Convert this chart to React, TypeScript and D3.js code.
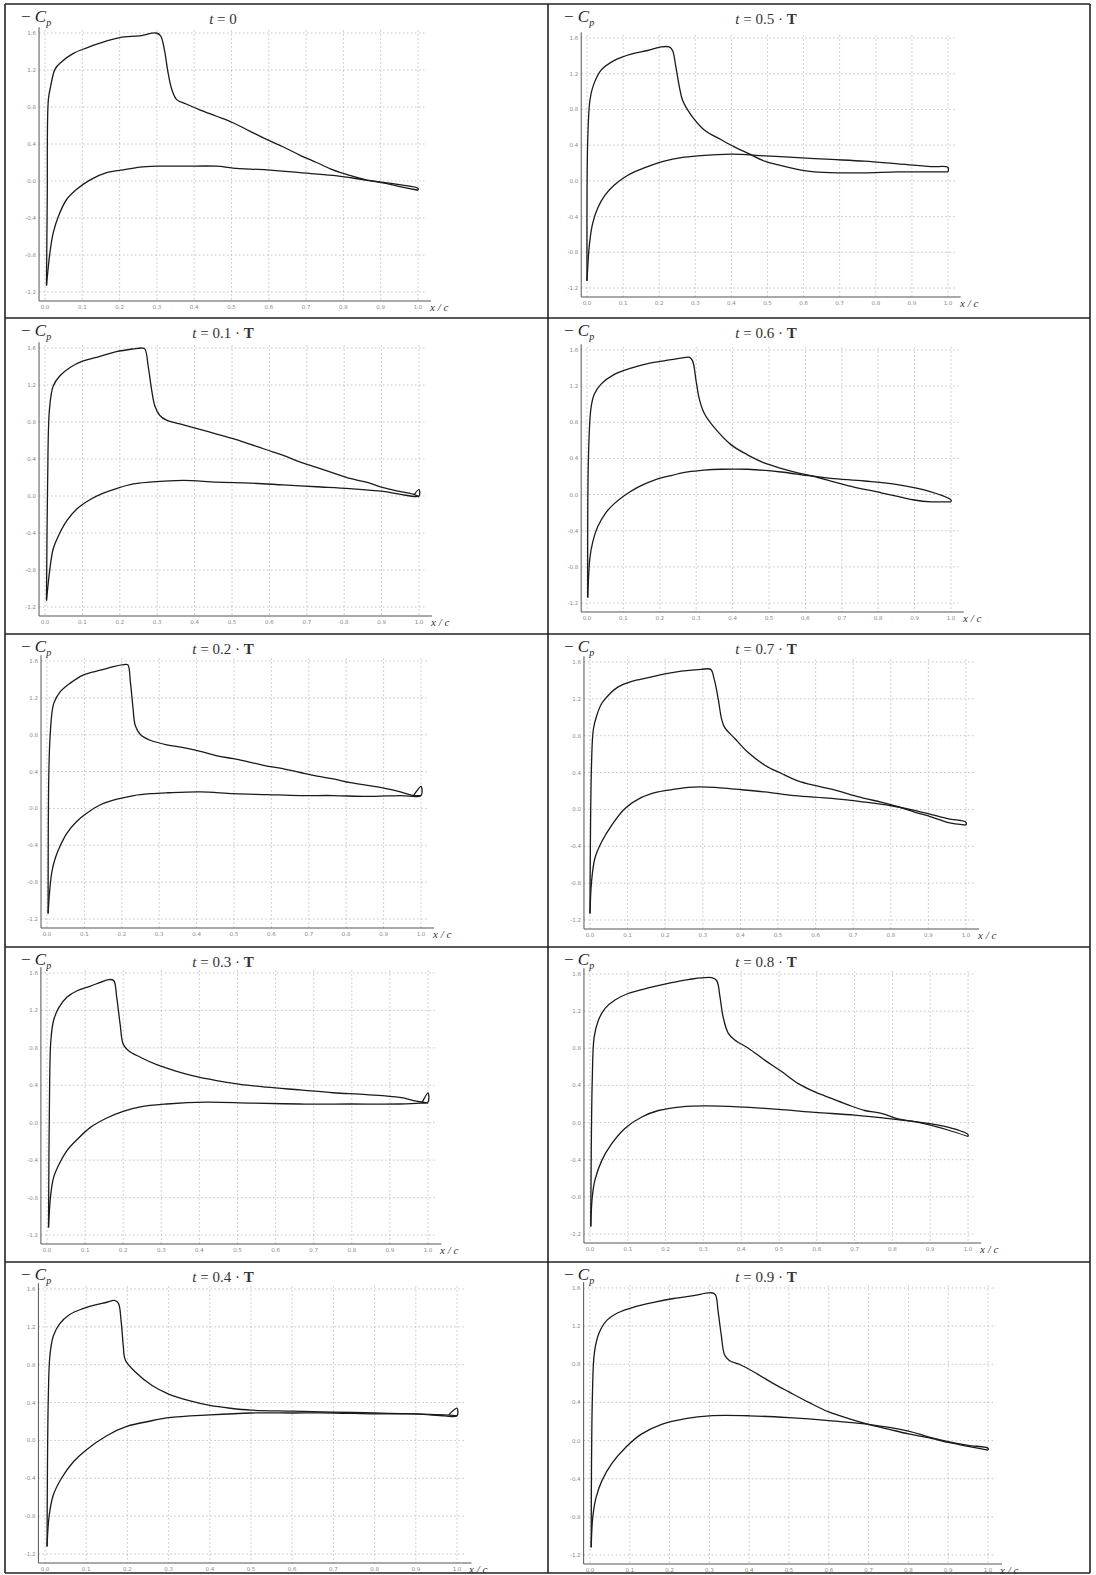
import React from 'react';
import * as d3 from 'd3';

type Pt = [number, number];

const X_TICKS = [0, 0.1, 0.2, 0.3, 0.4, 0.5, 0.6, 0.7, 0.8, 0.9, 1.0];
const X_TICK_LABELS = ['0.0', '0.1', '0.2', '0.3', '0.4', '0.5', '0.6', '0.7', '0.8', '0.9', '1.0'];
const Y_TICKS = [1.6, 1.2, 0.8, 0.4, 0.0, -0.4, -0.8, -1.2];
const Y_TICK_LABELS = ['1.6', '1.2', '0.8', '0.4', '0.0', '-0.4', '-0.8', '-1.2'];
const TIME_LABELS = ['0', '0.1', '0.2', '0.3', '0.4', '0.5', '0.6', '0.7', '0.8', '0.9'];

// -Cp on the upper surface (suction side) and lower surface, x/c from leading edge
const upper_t00: Pt[] = [[0.004,-1.13],[0.006,-0.2],[0.009,0.88],[0.015,1.02],[0.027,1.21],[0.045,1.29],[0.076,1.38],[0.112,1.44],[0.147,1.49],[0.2,1.55],[0.254,1.57],[0.298,1.6],[0.31,1.57],[0.32,1.42],[0.33,1.17],[0.34,0.99],[0.353,0.88],[0.38,0.83],[0.415,0.77],[0.46,0.7],[0.504,0.63],[0.549,0.54],[0.594,0.45],[0.638,0.37],[0.683,0.28],[0.728,0.2],[0.772,0.12],[0.817,0.06],[0.862,0.01],[0.906,-0.02],[0.951,-0.06],[1.0,-0.1]];
const lower_t00: Pt[] = [[0.004,-1.13],[0.013,-0.78],[0.022,-0.56],[0.036,-0.38],[0.058,-0.2],[0.085,-0.09],[0.12,0.01],[0.165,0.09],[0.21,0.12],[0.254,0.15],[0.3,0.16],[0.37,0.16],[0.46,0.16],[0.504,0.14],[0.594,0.12],[0.683,0.09],[0.772,0.06],[0.862,0.01],[0.951,-0.04],[1.0,-0.08],[1.0,-0.1]];

const upper_t01: Pt[] = [[0.004,-1.13],[0.007,0.15],[0.012,0.94],[0.022,1.19],[0.04,1.3],[0.067,1.39],[0.102,1.46],[0.147,1.51],[0.191,1.56],[0.236,1.59],[0.258,1.6],[0.267,1.59],[0.276,1.4],[0.285,1.15],[0.294,0.97],[0.307,0.87],[0.325,0.82],[0.37,0.77],[0.414,0.72],[0.459,0.67],[0.503,0.62],[0.548,0.56],[0.592,0.5],[0.637,0.44],[0.681,0.37],[0.726,0.31],[0.77,0.25],[0.815,0.19],[0.859,0.15],[0.904,0.09],[0.948,0.05],[0.984,0.02],[1.0,-0.01]];
const lower_t01: Pt[] = [[0.004,-1.13],[0.013,-0.79],[0.022,-0.57],[0.036,-0.43],[0.058,-0.27],[0.085,-0.14],[0.12,-0.04],[0.156,0.03],[0.191,0.08],[0.236,0.13],[0.28,0.15],[0.37,0.17],[0.459,0.15],[0.548,0.14],[0.637,0.12],[0.726,0.1],[0.815,0.08],[0.904,0.05],[0.948,0.02],[1.0,0.0],[1.0,0.07],[0.988,0.02]];

const upper_t02: Pt[] = [[0.003,-1.14],[0.005,0.4],[0.009,0.83],[0.018,1.14],[0.036,1.27],[0.062,1.36],[0.098,1.45],[0.143,1.5],[0.178,1.54],[0.205,1.56],[0.216,1.56],[0.223,1.37],[0.23,1.09],[0.236,0.9],[0.25,0.8],[0.276,0.74],[0.321,0.69],[0.365,0.66],[0.41,0.62],[0.455,0.57],[0.499,0.54],[0.544,0.5],[0.588,0.46],[0.633,0.43],[0.677,0.39],[0.722,0.35],[0.766,0.32],[0.811,0.28],[0.856,0.25],[0.9,0.22],[0.945,0.18],[0.98,0.14],[1.0,0.14]];
const lower_t02: Pt[] = [[0.003,-1.14],[0.007,-0.9],[0.013,-0.69],[0.022,-0.54],[0.036,-0.4],[0.053,-0.27],[0.08,-0.14],[0.107,-0.05],[0.143,0.04],[0.187,0.1],[0.232,0.14],[0.276,0.16],[0.321,0.17],[0.41,0.18],[0.499,0.16],[0.588,0.15],[0.677,0.14],[0.766,0.14],[0.856,0.13],[0.945,0.14],[1.0,0.14],[1.0,0.24],[0.98,0.14]];

const upper_t03: Pt[] = [[0.004,-1.12],[0.007,0.45],[0.01,0.87],[0.017,1.09],[0.031,1.23],[0.052,1.34],[0.079,1.41],[0.114,1.46],[0.14,1.5],[0.162,1.53],[0.175,1.52],[0.183,1.34],[0.192,1.05],[0.2,0.84],[0.214,0.77],[0.245,0.7],[0.288,0.62],[0.332,0.56],[0.384,0.5],[0.445,0.45],[0.507,0.41],[0.576,0.38],[0.664,0.35],[0.751,0.32],[0.838,0.3],[0.926,0.27],[0.969,0.23],[1.0,0.21]];
const lower_t03: Pt[] = [[0.004,-1.12],[0.009,-0.8],[0.017,-0.59],[0.031,-0.45],[0.052,-0.3],[0.079,-0.18],[0.114,-0.05],[0.157,0.05],[0.2,0.12],[0.245,0.17],[0.314,0.2],[0.419,0.22],[0.533,0.21],[0.664,0.2],[0.795,0.2],[0.926,0.2],[0.98,0.21],[1.0,0.22],[1.0,0.32],[0.985,0.22]];

const upper_t04: Pt[] = [[0.005,-1.12],[0.008,0.45],[0.012,0.9],[0.02,1.1],[0.035,1.23],[0.06,1.33],[0.09,1.39],[0.12,1.43],[0.15,1.46],[0.168,1.48],[0.178,1.45],[0.185,1.25],[0.19,1.0],[0.195,0.85],[0.22,0.72],[0.26,0.58],[0.3,0.49],[0.35,0.42],[0.4,0.37],[0.45,0.34],[0.5,0.32],[0.6,0.31],[0.7,0.3],[0.8,0.29],[0.9,0.28],[0.97,0.27],[1.0,0.26]];
const lower_t04: Pt[] = [[0.005,-1.12],[0.01,-0.8],[0.02,-0.58],[0.04,-0.4],[0.07,-0.22],[0.1,-0.1],[0.15,0.05],[0.2,0.15],[0.25,0.2],[0.3,0.24],[0.4,0.27],[0.5,0.29],[0.6,0.29],[0.7,0.29],[0.8,0.28],[0.9,0.28],[0.97,0.26],[1.0,0.26],[1.0,0.34],[0.98,0.27]];

const upper_t05: Pt[] = [[0.0,-1.12],[0.002,0.46],[0.008,0.9],[0.016,1.05],[0.039,1.24],[0.076,1.35],[0.122,1.42],[0.168,1.46],[0.205,1.5],[0.228,1.5],[0.237,1.46],[0.246,1.28],[0.256,1.05],[0.265,0.9],[0.288,0.74],[0.325,0.57],[0.372,0.46],[0.408,0.38],[0.445,0.31],[0.492,0.22],[0.538,0.17],[0.593,0.12],[0.63,0.1],[0.695,0.09],[0.769,0.09],[0.861,0.1],[0.954,0.1],[1.0,0.1]];
const lower_t05: Pt[] = [[0.0,-1.12],[0.007,-0.7],[0.016,-0.47],[0.03,-0.3],[0.05,-0.16],[0.075,-0.05],[0.1,0.03],[0.131,0.1],[0.168,0.16],[0.214,0.22],[0.261,0.26],[0.307,0.28],[0.4,0.3],[0.492,0.28],[0.584,0.26],[0.677,0.24],[0.769,0.22],[0.861,0.19],[0.954,0.16],[1.0,0.15],[1.0,0.1]];

const upper_t06: Pt[] = [[0.002,-1.14],[0.004,0.41],[0.011,0.96],[0.02,1.11],[0.038,1.22],[0.075,1.33],[0.121,1.4],[0.167,1.45],[0.212,1.48],[0.258,1.51],[0.281,1.52],[0.29,1.48],[0.3,1.25],[0.309,1.05],[0.322,0.9],[0.35,0.74],[0.396,0.55],[0.441,0.44],[0.487,0.35],[0.533,0.29],[0.579,0.24],[0.625,0.2],[0.67,0.15],[0.716,0.1],[0.808,0.02],[0.899,-0.06],[0.945,-0.08],[1.0,-0.08]];
const lower_t06: Pt[] = [[0.002,-1.14],[0.008,-0.7],[0.016,-0.52],[0.029,-0.36],[0.052,-0.2],[0.075,-0.1],[0.103,-0.01],[0.139,0.08],[0.185,0.16],[0.231,0.21],[0.277,0.25],[0.322,0.27],[0.368,0.28],[0.441,0.28],[0.533,0.25],[0.606,0.21],[0.67,0.18],[0.762,0.15],[0.853,0.11],[0.945,0.03],[1.0,-0.06],[1.0,-0.08]];

const upper_t07: Pt[] = [[0.0,-1.13],[0.004,0.48],[0.009,0.87],[0.018,1.02],[0.031,1.15],[0.049,1.24],[0.075,1.33],[0.111,1.39],[0.155,1.43],[0.199,1.47],[0.243,1.5],[0.296,1.52],[0.321,1.52],[0.33,1.42],[0.341,1.2],[0.35,0.98],[0.358,0.89],[0.385,0.77],[0.42,0.62],[0.465,0.48],[0.509,0.39],[0.553,0.31],[0.597,0.26],[0.642,0.22],[0.686,0.17],[0.73,0.12],[0.774,0.08],[0.819,0.03],[0.863,-0.03],[0.907,-0.08],[0.951,-0.14],[1.0,-0.17]];
const lower_t07: Pt[] = [[0.0,-1.13],[0.004,-0.79],[0.013,-0.53],[0.031,-0.35],[0.058,-0.17],[0.093,0.01],[0.137,0.13],[0.181,0.19],[0.226,0.22],[0.261,0.24],[0.332,0.24],[0.385,0.22],[0.465,0.19],[0.544,0.15],[0.642,0.12],[0.73,0.08],[0.801,0.04],[0.863,-0.01],[0.951,-0.1],[1.0,-0.14],[1.0,-0.17]];

const upper_t08: Pt[] = [[0.002,-1.12],[0.006,0.46],[0.011,0.92],[0.022,1.1],[0.04,1.23],[0.066,1.32],[0.101,1.39],[0.154,1.45],[0.207,1.5],[0.26,1.54],[0.322,1.56],[0.335,1.53],[0.344,1.35],[0.352,1.14],[0.366,0.96],[0.383,0.89],[0.419,0.8],[0.463,0.67],[0.507,0.55],[0.551,0.42],[0.595,0.33],[0.639,0.26],[0.683,0.19],[0.727,0.13],[0.771,0.1],[0.815,0.04],[0.859,0.01],[0.903,-0.03],[0.947,-0.08],[1.0,-0.15]];
const lower_t08: Pt[] = [[0.002,-1.12],[0.006,-0.8],[0.013,-0.62],[0.031,-0.41],[0.057,-0.23],[0.093,-0.06],[0.137,0.06],[0.181,0.13],[0.242,0.17],[0.304,0.18],[0.392,0.17],[0.507,0.14],[0.595,0.11],[0.7,0.08],[0.797,0.04],[0.859,0.01],[0.947,-0.05],[1.0,-0.13],[1.0,-0.15]];

const upper_t09: Pt[] = [[0.003,-1.12],[0.006,0.46],[0.011,0.92],[0.022,1.12],[0.04,1.25],[0.07,1.34],[0.11,1.4],[0.16,1.45],[0.21,1.49],[0.26,1.52],[0.305,1.55],[0.315,1.53],[0.322,1.35],[0.33,1.1],[0.338,0.9],[0.35,0.84],[0.38,0.79],[0.42,0.7],[0.46,0.6],[0.5,0.51],[0.55,0.4],[0.6,0.3],[0.65,0.23],[0.7,0.17],[0.75,0.12],[0.8,0.07],[0.85,0.03],[0.9,-0.02],[0.95,-0.06],[1.0,-0.1]];
const lower_t09: Pt[] = [[0.003,-1.12],[0.007,-0.8],[0.015,-0.6],[0.03,-0.42],[0.055,-0.24],[0.09,-0.07],[0.13,0.07],[0.18,0.17],[0.24,0.23],[0.3,0.26],[0.4,0.26],[0.5,0.24],[0.6,0.21],[0.7,0.17],[0.8,0.1],[0.85,0.04],[0.9,-0.01],[0.95,-0.05],[1.0,-0.08],[1.0,-0.1]];

const UPPER = [upper_t00, upper_t01, upper_t02, upper_t03, upper_t04, upper_t05, upper_t06, upper_t07, upper_t08, upper_t09];
const LOWER = [lower_t00, lower_t01, lower_t02, lower_t03, lower_t04, lower_t05, lower_t06, lower_t07, lower_t08, lower_t09];

// layout (pixel frame of each scanned panel)
const ROW_EDGES = [4, 318, 634, 947, 1262, 1573];
const COL_EDGES = [5, 548, 1090];
const FRAMES = [
  { x0: 45, x1: 418, yTop: 33, yBot: 292 },
  { x0: 45, x1: 419, yTop: 348, yBot: 607 },
  { x0: 47, x1: 421, yTop: 661, yBot: 919 },
  { x0: 47, x1: 428, yTop: 973, yBot: 1235 },
  { x0: 45, x1: 457, yTop: 1289, yBot: 1554 },
  { x0: 587, x1: 948, yTop: 38, yBot: 288 },
  { x0: 587, x1: 951, yTop: 350, yBot: 603 },
  { x0: 590, x1: 966, yTop: 662, yBot: 920 },
  { x0: 590, x1: 968, yTop: 974, yBot: 1234 },
  { x0: 590, x1: 988, yTop: 1288, yBot: 1555 },
];

const SERIF = '"Liberation Serif", "DejaVu Serif", serif';

function Panel({ idx }: { idx: number }) {
  const f = FRAMES[idx];
  const col = idx < 5 ? 0 : 1;
  const row = idx % 5;
  const cellX = COL_EDGES[col];
  const cellY = ROW_EDGES[row];
  const x = d3.scaleLinear().domain([0, 1]).range([f.x0, f.x1]);
  const y = d3.scaleLinear().domain([-1.2, 1.6]).range([f.yBot, f.yTop]);
  const line = d3
    .line<Pt>()
    .x((d) => x(d[0]))
    .y((d) => y(d[1]))
    .curve(d3.curveCatmullRom.alpha(0.5));
  const axisX = x(-0.016);
  const axisY = y(-1.2) + 9;
  const gridTop = y(1.63);
  const gridRight = x(1.02);
  const tLabel = TIME_LABELS[idx];
  return (
    <g>
      {X_TICKS.map((t) => (
        <line key={'vx' + t} x1={x(t)} x2={x(t)} y1={gridTop} y2={axisY} stroke="#b4b4b4" strokeWidth={0.8} strokeDasharray="1.5,2.5" />
      ))}
      {Y_TICKS.map((t) => (
        <line key={'hy' + t} x1={axisX} x2={gridRight} y1={y(t)} y2={y(t)} stroke="#b4b4b4" strokeWidth={0.8} strokeDasharray="1.5,2.5" />
      ))}
      <line x1={axisX} x2={axisX} y1={gridTop - 3} y2={axisY} stroke="#555" strokeWidth={1} />
      <line x1={axisX} x2={x(1.035)} y1={axisY} y2={axisY} stroke="#555" strokeWidth={1.2} />
      {Y_TICKS.map((t, i) => (
        <text key={'yl' + t} x={axisX - 3} y={y(t) + 2} fontSize={5.5} fill="#8a8a8a" textAnchor="end" fontFamily="DejaVu Sans, sans-serif">
          {Y_TICK_LABELS[i]}
        </text>
      ))}
      {X_TICKS.map((t, i) => (
        <text key={'xl' + t} x={x(t)} y={axisY + 8} fontSize={5.5} fill="#8a8a8a" textAnchor="middle" fontFamily="DejaVu Sans, sans-serif">
          {X_TICK_LABELS[i]}
        </text>
      ))}
      <text x={x(1.0) + 12} y={axisY + 10} fontSize={11} fontStyle="italic" fontFamily={SERIF} fill="#333">
        x / c
      </text>
      <text x={cellX + 16} y={cellY + 18} fontSize={17} fontFamily={SERIF} fill="#222">
        <tspan>− </tspan>
        <tspan fontStyle="italic">C</tspan>
        <tspan fontSize={10} fontStyle="italic" dy={4}>p</tspan>
      </text>
      <text x={cellX + 218} y={cellY + 20} fontSize={15} fontFamily={SERIF} fill="#333" textAnchor="middle">
        <tspan fontStyle="italic">t</tspan>
        <tspan>{' = ' + tLabel}</tspan>
        {idx > 0 ? <tspan>{' · '}</tspan> : null}
        {idx > 0 ? <tspan fontWeight="bold">T</tspan> : null}
      </text>
      <path d={line(UPPER[idx]) || ''} fill="none" stroke="#1a1a1a" strokeWidth={1.3} strokeLinejoin="round" />
      <path d={line(LOWER[idx]) || ''} fill="none" stroke="#1a1a1a" strokeWidth={1.3} strokeLinejoin="round" />
    </g>
  );
}

export default function App() {
  const idxs = d3.range(10);
  return (
    <svg width={1096} height={1575} style={{ position: 'absolute', left: 0, top: 0, background: '#fff' }}>
      <rect x={0} y={0} width={1096} height={1575} fill="#fff" />
      {idxs.map((i) => (
        <Panel key={i} idx={i} />
      ))}
      {ROW_EDGES.map((r, i) => (
        <line key={'r' + i} x1={COL_EDGES[0]} x2={COL_EDGES[2]} y1={r} y2={r} stroke="#222" strokeWidth={1.6} />
      ))}
      {COL_EDGES.map((c, i) => (
        <line key={'c' + i} x1={c} x2={c} y1={ROW_EDGES[0]} y2={ROW_EDGES[5]} stroke="#222" strokeWidth={1.6} />
      ))}
    </svg>
  );
}
